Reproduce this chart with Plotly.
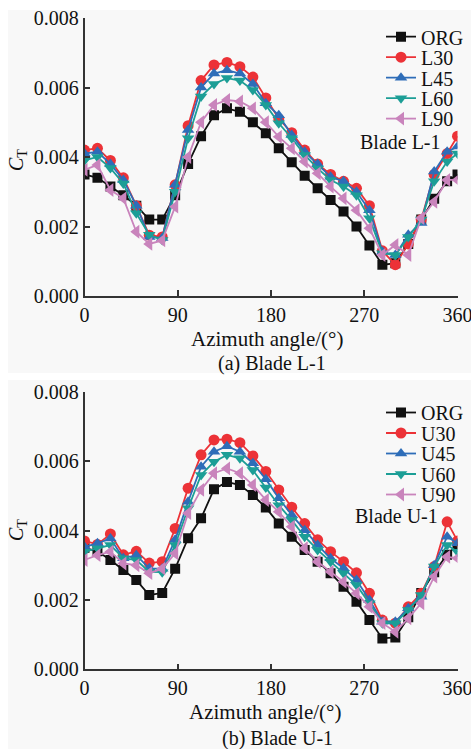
import plotly.graph_objects as go

# Azimuth positions (degrees)
azimuth = [0, 12.5, 25, 37.5, 50, 62.5, 75, 87.5, 100, 112.5, 125, 137.5, 150, 162.5,
           175, 187.5, 200, 212.5, 225, 237.5, 250, 262.5, 275, 287.5, 300, 312.5,
           325, 337.5, 350, 360]

# Panel (a): Blade L-1 thrust coefficient
ct_org_a = [0.0035, 0.0034, 0.00315, 0.0029, 0.0026, 0.0022, 0.0022, 0.0029, 0.0038, 0.0046,
            0.0052, 0.0054, 0.0053, 0.0050, 0.00468, 0.00425, 0.00385, 0.00346, 0.0031, 0.00276,
            0.00243, 0.0020, 0.00145, 0.0009, 0.00094, 0.0015, 0.0022, 0.0028, 0.0033, 0.0035]
ct_l30 = [0.0042, 0.00425, 0.0039, 0.0034, 0.0026, 0.00175, 0.0017, 0.0032, 0.0049, 0.0062,
          0.00665, 0.00672, 0.0066, 0.0063, 0.0057, 0.0051, 0.0047, 0.0042, 0.0038, 0.0035,
          0.0033, 0.0031, 0.0026, 0.0013, 0.0009, 0.0015, 0.0022, 0.0035, 0.0041, 0.0046]
ct_l45 = [0.0041, 0.00415, 0.0038, 0.00334, 0.0026, 0.0017, 0.00167, 0.0032, 0.00478, 0.0060,
          0.0064, 0.0065, 0.0064, 0.0061, 0.00555, 0.0052, 0.00463, 0.00415, 0.0038, 0.00343,
          0.0033, 0.0030, 0.00247, 0.00127, 0.00118, 0.00176, 0.0021, 0.00358, 0.00415, 0.0043]
ct_l60 = [0.0039, 0.0040, 0.00368, 0.00324, 0.00238, 0.00176, 0.00161, 0.0030, 0.00454, 0.00574,
          0.0061, 0.00627, 0.0062, 0.00593, 0.0055, 0.00497, 0.00454, 0.00406, 0.00367, 0.00334,
          0.00315, 0.0029, 0.00224, 0.00123, 0.00118, 0.0017, 0.0022, 0.0033, 0.00387, 0.0041]
ct_l90 = [0.00363, 0.00377, 0.00305, 0.00281, 0.00185, 0.0015, 0.0016, 0.00257, 0.0040, 0.0050,
          0.0055, 0.00564, 0.0056, 0.0054, 0.0050, 0.00458, 0.00425, 0.00387, 0.00353, 0.00315,
          0.00281, 0.00247, 0.00195, 0.00118, 0.00147, 0.00118, 0.00224, 0.00271, 0.00334, 0.00334]

# Panel (b): Blade U-1 thrust coefficient
ct_org_b = [0.0035, 0.0034, 0.00315, 0.00286, 0.00257, 0.00214, 0.0022, 0.0029, 0.00378, 0.00435,
            0.00519, 0.0054, 0.00531, 0.00502, 0.00466, 0.0042, 0.00382, 0.00344, 0.0031, 0.00277,
            0.00238, 0.00195, 0.00142, 0.00089, 0.00092, 0.0015, 0.0022, 0.0028, 0.0033, 0.0036]
ct_u30 = [0.0037, 0.0036, 0.0039, 0.0033, 0.0034, 0.00306, 0.0031, 0.00406, 0.00522, 0.00618,
          0.00661, 0.00663, 0.00653, 0.00615, 0.0057, 0.00517, 0.00467, 0.0042, 0.00373, 0.00339,
          0.0031, 0.00278, 0.00219, 0.00142, 0.00133, 0.0018, 0.00219, 0.00296, 0.00425, 0.0037]
ct_u45 = [0.00353, 0.00363, 0.00377, 0.0032, 0.00329, 0.00291, 0.0029, 0.00373, 0.00483, 0.00584,
          0.00627, 0.00643, 0.00627, 0.00594, 0.00548, 0.00493, 0.00445, 0.00401, 0.00358, 0.0032,
          0.00291, 0.00257, 0.0020, 0.00137, 0.00137, 0.00176, 0.00209, 0.0030, 0.00382, 0.00363]
ct_u60 = [0.00339, 0.00349, 0.00358, 0.0032, 0.00315, 0.00281, 0.0028, 0.00358, 0.00464, 0.0056,
          0.00598, 0.00618, 0.00608, 0.00574, 0.00524, 0.00473, 0.0043, 0.00382, 0.00344, 0.0031,
          0.00277, 0.00243, 0.0019, 0.00133, 0.00133, 0.00171, 0.00214, 0.00296, 0.00358, 0.00339]
ct_u90 = [0.00315, 0.00329, 0.00339, 0.00305, 0.0030, 0.00277, 0.0029, 0.00334, 0.0045, 0.00517,
          0.00565, 0.00579, 0.00565, 0.00531, 0.00488, 0.00454, 0.00411, 0.00349, 0.0031, 0.00281,
          0.00252, 0.00219, 0.0018, 0.00133, 0.00108, 0.00147, 0.0019, 0.00267, 0.00324, 0.0032]

x_ticks = [0, 90, 180, 270, 360]
y_ticks = [0.000, 0.002, 0.004, 0.006, 0.008]

W, H = 471, 749
FONT = "Liberation Serif"

styles = [
    ("#111111", "square", 10),
    ("#ec3237", "circle", 11),
    ("#2e6db8", "triangle-up", 11),
    ("#1c9e96", "triangle-down", 11),
    ("#c984bc", "triangle-left", 12),
]

panels = [
    (["ORG", "L30", "L45", "L60", "L90"], [ct_org_a, ct_l30, ct_l45, ct_l60, ct_l90], "x", "y",
     [36.7, 57.2, 77.7, 98.2, 118.6]),
    (["ORG", "U30", "U45", "U60", "U90"], [ct_org_b, ct_u30, ct_u45, ct_u60, ct_u90], "x2", "y2",
     [412.5, 433, 453.5, 474, 494.5]),
]

fig = go.Figure()
layout_legends = {}
k = 0
for names, series, xa, ya, rows in panels:
    for (color, symbol, size), name, vals, row in zip(styles, names, series, rows):
        k += 1
        lg = "legend" if k == 1 else f"legend{k}"
        fig.add_trace(go.Scatter(
            x=azimuth, y=vals, name=name, mode="lines+markers",
            xaxis=xa, yaxis=ya, legend=lg, showlegend=True,
            line=dict(color=color, width=1.8),
            marker=dict(symbol=symbol, size=size, color=color, line=dict(width=0)),
        ))
        layout_legends[lg] = dict(
            x=381 / W, y=1 - row / H, xanchor="left", yanchor="middle",
            bgcolor="rgba(0,0,0,0)", borderwidth=0, itemwidth=30,
            font=dict(family=FONT, size=20, color="#111111"),
        )

axis_common = dict(
    showgrid=False, zeroline=False, showline=True, linecolor="#333333", linewidth=1.5,
    ticks="inside", ticklen=6, tickwidth=1.5, tickcolor="#333333", automargin=False,
    ticklabeloverflow="allow",
    tickfont=dict(family=FONT, size=20, color="#111111"),
)

xdom = [84.5 / W, 457.5 / W]
fig.update_layout(
    width=W, height=H, margin=dict(l=0, r=0, t=0, b=0, autoexpand=False),
    showlegend=True,
    paper_bgcolor="white", plot_bgcolor="rgba(0,0,0,0)",
    xaxis=dict(domain=xdom, range=[0, 360], tickvals=x_ticks, anchor="y", **axis_common),
    yaxis=dict(domain=[1 - 296 / H, 1 - 18 / H], range=[0, 0.008], tickvals=y_ticks,
               tickformat=".3f", anchor="x", **axis_common),
    xaxis2=dict(domain=xdom, range=[0, 360], tickvals=x_ticks, anchor="y2", **axis_common),
    yaxis2=dict(domain=[1 - 669.3 / H, 1 - 391.7 / H], range=[0, 0.008], tickvals=y_ticks,
                tickformat=".3f", anchor="x2", **axis_common),
    **layout_legends,
)

# Light panel backgrounds
for y0, y1 in [(10, 373), (380, 749)]:
    fig.add_shape(type="rect", xref="paper", yref="paper", layer="below",
                  x0=8 / W, x1=1, y0=1 - y1 / H, y1=1 - y0 / H,
                  fillcolor="#f8f8f8", line=dict(width=0))

def note(text, x, y, angle=0, size=20):
    fig.add_annotation(text=text, x=x / W, y=1 - y / H, xref="paper", yref="paper",
                       showarrow=False, textangle=angle, xanchor="center", yanchor="middle",
                       font=dict(family=FONT, size=size, color="#111111"))

note("Blade L-1", 400, 142)
note("Blade U-1", 396, 516)
note("Azimuth angle/(°)", 267, 339, size=21)
note("Azimuth angle/(°)", 265, 712, size=21)
note("(a) Blade L-1", 272, 363)
note("(b) Blade U-1", 277, 738)
note("<i>C</i><sub>T</sub>", 17, 160, angle=-90)
note("<i>C</i><sub>T</sub>", 17, 530, angle=-90)

fig.write_html("out.html")
